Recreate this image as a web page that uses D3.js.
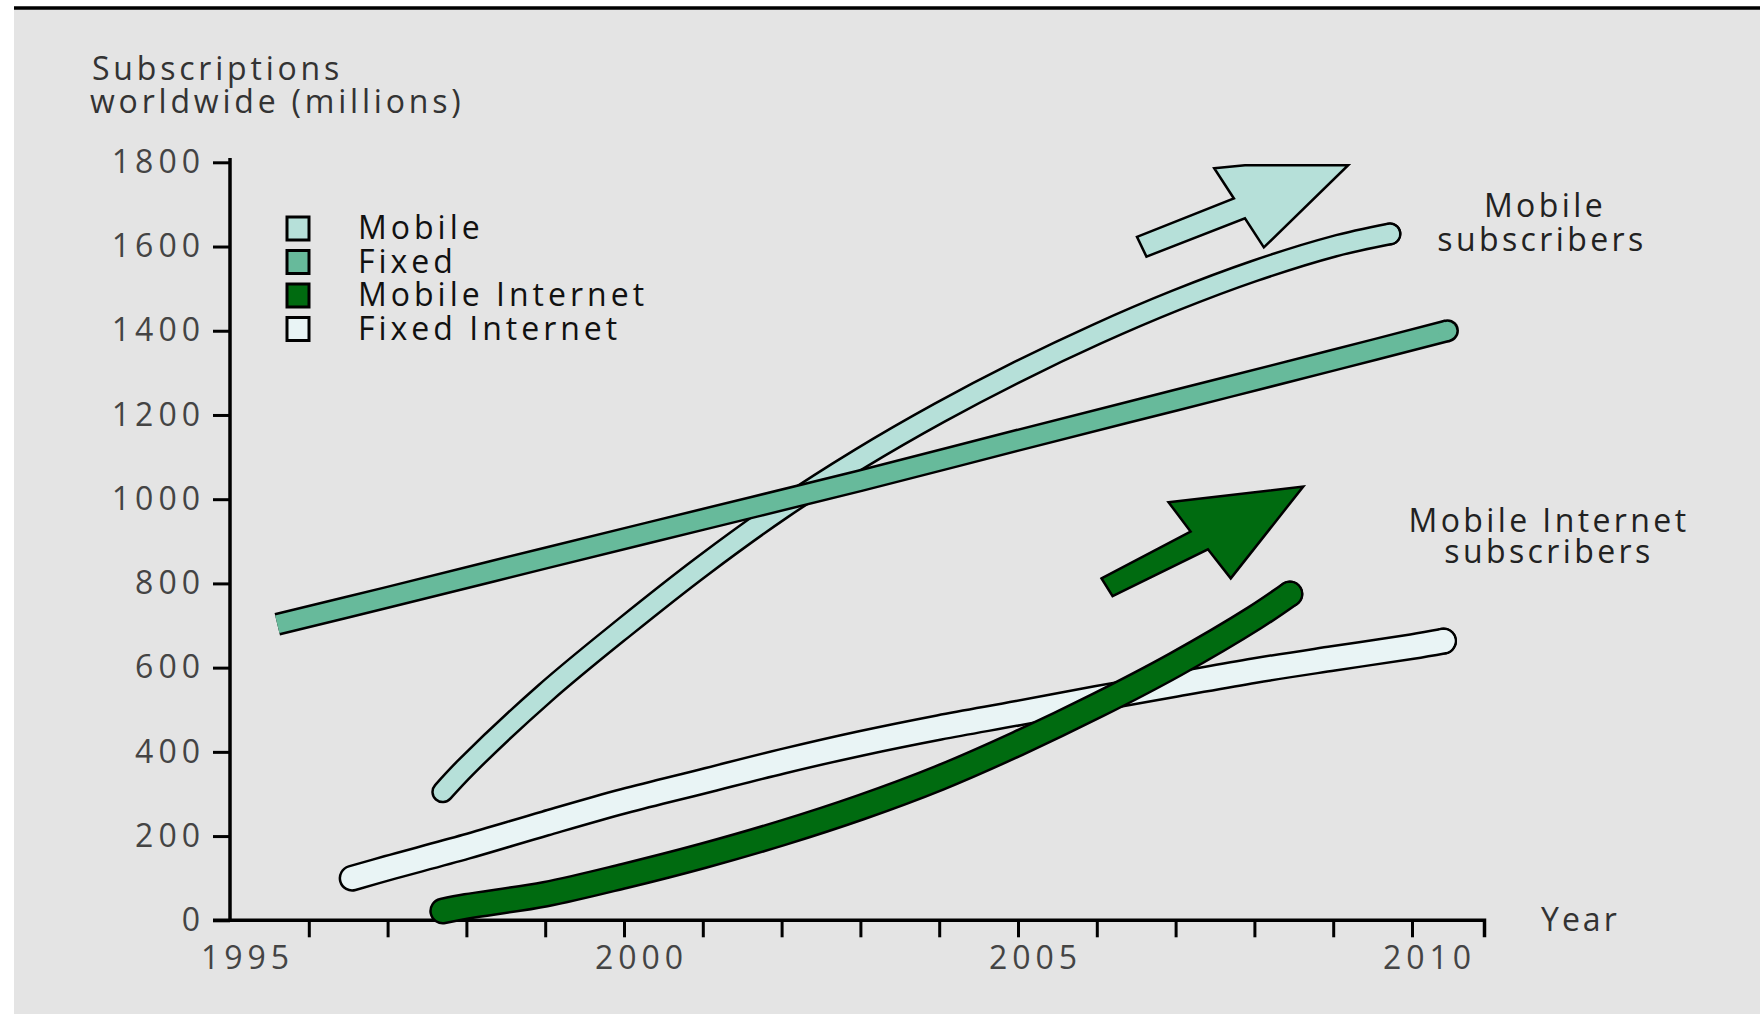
<!DOCTYPE html>
<html>
<head>
<meta charset="utf-8">
<script src="https://cdn.jsdelivr.net/npm/d3@7"></script>
<style>
body { margin: 0; background: #fff; }
text { font-family: "Open Sans", sans-serif; font-size: 32px; }
</style>
</head>
<body>
<svg id="chart" width="1760" height="1014"></svg>
<script>
// centre line of each band (year, millions)
var mobileYears = [1997.7, 1998, 1999, 2000, 2001, 2002, 2003, 2004, 2005, 2006, 2007, 2008, 2009, 2009.72];
var mobileValues = [305, 365, 540, 695, 842, 977, 1097, 1205, 1303, 1392, 1472, 1542, 1600, 1630];

var fixedYears = [1995.6, 1997, 1999, 2001, 2003, 2005, 2007, 2009, 2010.45];
var fixedValues = [703, 767, 860, 952, 1044, 1140, 1235, 1330, 1400];

var mobileNetYears = [1997.7, 1998, 1999, 2000, 2001, 2002, 2003, 2004, 2005, 2006, 2007, 2008, 2008.45];
var mobileNetValues = [22, 33, 62, 105, 153, 207, 268, 338, 420, 510, 608, 718, 775];

var fixedNetYears = [1996.55, 1997, 1998, 1999, 2000, 2001, 2002, 2003, 2004, 2005, 2006, 2007, 2008, 2009, 2010, 2010.4];
var fixedNetValues = [100, 124, 175, 230, 283, 330, 377, 420, 458, 492, 527, 560, 593, 622, 650, 663];

var seriesNames = ['Mobile', 'Fixed', 'Mobile Internet', 'Fixed Internet'];
var seriesColors = ['#b6e0d9', '#67ba9b', '#006b10', '#e9f4f5'];

var yTicks = [0, 200, 400, 600, 800, 1000, 1200, 1400, 1600, 1800];
var xTicks = [1995, 1996, 1997, 1998, 1999, 2000, 2001, 2002, 2003, 2004, 2005, 2006, 2007, 2008, 2009, 2010];
var xLabels = [1995, 2000, 2005, 2010];

// block arrows, corners in (year, millions)
var mobileArrow = [[2007.49, 1786], [2007.88, 1793], [2009.19, 1793], [2008.12, 1598], [2007.88, 1667],
    [2006.63, 1576], [2006.51, 1623], [2007.74, 1714]];
var mobileNetArrow = [[2006.06, 812], [2007.19, 923], [2006.91, 993], [2008.62, 1030], [2007.70, 812],
    [2007.41, 881], [2006.20, 770]];

var svg = d3.select('#chart');

// page background
svg.append('rect').attr('x', 14).attr('y', 9).attr('width', 1746).attr('height', 1005).attr('fill', '#e4e4e4');
svg.append('line').attr('x1', 14).attr('x2', 1760).attr('y1', 8).attr('y2', 8)
    .attr('stroke', '#000').attr('stroke-width', 3.5);

var x = d3.scaleLinear().domain([1995, 2010.92]).range([230, 1484.5]);
var y = d3.scaleLinear().domain([0, 1800]).range([920.3, 162.3]);

// axis title
var title = svg.append('text').attr('x', 92).attr('y', 80)
    .style('letter-spacing', '3.8px').attr('fill', '#333');
title.append('tspan').text('Subscriptions');
title.append('tspan').attr('x', 90).attr('y', 113).text('worldwide (millions)');

// y axis
var yAxis = svg.append('g').attr('transform', 'translate(230,0)')
    .call(d3.axisLeft(y).tickValues(yTicks).tickSize(17).tickSizeOuter(0).tickPadding(13)
        .tickFormat(d3.format('d')));
yAxis.select('.domain').attr('d', `M0,${y(0)}V158`).attr('stroke-width', 3.5);
yAxis.selectAll('.tick line').attr('stroke-width', 3);
yAxis.selectAll('.tick text').style('font-size', '32px').style('letter-spacing', '5px')
    .attr('fill', '#444').attr('dx', 5);

// x axis
var xAxis = svg.append('g').attr('transform', `translate(0,${y(0)})`)
    .call(d3.axisBottom(x).tickValues(xTicks).tickSize(17).tickSizeOuter(0).tickPadding(9)
        .tickFormat(d => xLabels.includes(d) ? d : ''));
xAxis.select('.domain').attr('d', `M213,0H${x.range()[1]}V17`).attr('stroke-width', 3.5);
xAxis.selectAll('.tick line').attr('stroke-width', 3).filter(d => d == 1995).remove();
xAxis.selectAll('.tick text').style('font-size', '32px').style('letter-spacing', '5px')
    .attr('fill', '#444').attr('dx', 17);

svg.append('text').attr('x', 1541).attr('y', 931).text('Year')
    .style('letter-spacing', '3px').attr('fill', '#333');

// bands: black outline under a coloured stroke
var line = d3.line().x(d => x(d[0])).y(d => y(d[1])).curve(d3.curveCatmullRom);

var bands = [
    {years: mobileYears, values: mobileValues, width: 23, color: seriesColors[0], cap: 'round'},
    {years: fixedYears, values: fixedValues, width: 23, color: seriesColors[1], cap: 'butt'},
    {years: fixedNetYears, values: fixedNetValues, width: 27, color: seriesColors[3], cap: 'round'},
    {years: mobileNetYears, values: mobileNetValues, width: 27, color: seriesColors[2], cap: 'round'}
];

bands.forEach(b => {
    var pts = b.years.map((yr, i) => [yr, b.values[i]]);
    var last = pts[pts.length - 1];
    var g = svg.append('g').attr('class', 'band');
    g.append('path').attr('d', line(pts)).attr('fill', 'none')
        .attr('stroke', '#000').attr('stroke-width', b.width).attr('stroke-linecap', b.cap);
    // rounded right end even where the left end is cut square
    g.append('circle').attr('cx', x(last[0])).attr('cy', y(last[1])).attr('r', b.width / 2).attr('fill', '#000');
    g.append('path').attr('d', line(pts)).attr('fill', 'none')
        .attr('stroke', b.color).attr('stroke-width', b.width - 5).attr('stroke-linecap', b.cap);
    g.append('circle').attr('cx', x(last[0])).attr('cy', y(last[1])).attr('r', (b.width - 5) / 2).attr('fill', b.color);
});

// arrows
var arrowPoints = pts => pts.map(p => x(p[0]) + ',' + y(p[1])).join(' ');
svg.append('polygon').attr('points', arrowPoints(mobileArrow))
    .attr('fill', seriesColors[0]).attr('stroke', '#000').attr('stroke-width', 2.5);
svg.append('polygon').attr('points', arrowPoints(mobileNetArrow))
    .attr('fill', seriesColors[2]).attr('stroke', '#000').attr('stroke-width', 2.5);

// annotations
var note1 = svg.append('text').attr('text-anchor', 'middle')
    .style('letter-spacing', '3.4px').attr('fill', '#222');
note1.append('tspan').attr('x', 1545).attr('y', 217).text('Mobile');
note1.append('tspan').attr('x', 1542).attr('y', 251).text('subscribers');

var note2 = svg.append('text').attr('text-anchor', 'middle')
    .style('letter-spacing', '3.4px').attr('fill', '#222');
note2.append('tspan').attr('x', 1549).attr('y', 532).text('Mobile Internet');
note2.append('tspan').attr('x', 1549).attr('y', 563).text('subscribers');

// legend
var legend = svg.append('g').selectAll('g')
    .data(seriesNames).enter().append('g')
    .attr('transform', (d, i) => `translate(287, ${217 + i * 33.5})`);
legend.append('rect').attr('width', 22).attr('height', 23)
    .attr('fill', (d, i) => seriesColors[i]).attr('stroke', '#000').attr('stroke-width', 3);
legend.append('text').attr('x', 71).attr('y', 22).text(d => d)
    .style('letter-spacing', '4px').attr('fill', '#111');
</script>
</body>
</html>
